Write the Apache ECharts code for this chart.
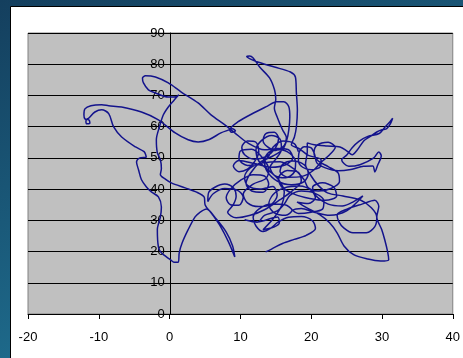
<!DOCTYPE html>
<html>
<head>
<meta charset="utf-8">
<script src="https://cdn.jsdelivr.net/npm/echarts@6/dist/echarts.min.js"></script>
<style>
  html, body { margin: 0; padding: 0; }
  #chart { width: 463px; height: 358px; }
</style>
</head>
<body>
<div id="chart"></div>
<script>
// ---- axis ticks ----
const xTicks = [-20, -10, 0, 10, 20, 30, 40];
const yTicks = [0, 10, 20, 30, 40, 50, 60, 70, 80, 90];

// ---- trajectory (x values, y values) ----
const pathX = [
  13.56, 14.4, 15.95, 17.6, 19.3, 20.6, 20.2, 18.6, 16.8, 15.3, 14.3, 13.2, 12.2, 11.8, 12.6, 14.4, 16.3, 17.3, 16.4, 14.8,
  14.0, 14.6, 16.2, 18.4, 20.0, 20.6, 19.6, 18.0,
  19.4, 21.2, 22.6, 23.66, 24.64, 26.0, 28.0, 29.8, 30.95, 30.8, 30.39, 29.97, 29.27, 29.55, 28.99, 27.17, 25.06, 23.66,
  23.9, 24.64, 25.9, 27.8, 28.99, 29.27, 28.5, 26.89, 24.5, 22.3, 21.0,
  20.0, 19.2, 19.45, 19.45, 20.43, 22.26, 24.08, 25.06, 25.8, 26.5, 27.45, 28.3, 29.27, 30.0, 30.67, 31.2, 31.51, 31.1,
  30.4, 29.6, 28.0, 26.74, 25.76, 25.06, 24.3, 25.3, 26.89, 28.85, 29.55, 29.9, 29.41, 28.99, 28.7, 27.4, 25.6, 23.8,
  22.0, 20.8,
  20.5, 20.0, 19.0, 18.3, 18.2, 18.8, 20.0, 21.3, 21.4, 19.6, 18.3, 17.2,
  17.63, 17.91, 18.05, 17.91, 17.77, 17.07, 14.82, 12.44, 11.3, 10.9, 11.3, 11.8, 12.72, 14.12, 14.82, 15.0, 14.8, 15.25,
  15.95, 16.5, 16.2,
  15.0, 13.8, 13.2, 13.6, 14.8, 15.4, 14.9, 13.6, 12.0, 10.6, 10.2, 11.0, 12.2, 12.6, 12.0, 11.0, 9.8, 9.0, 9.8, 12.0,
  14.4, 16.4, 17.4, 16.8, 15.2,
  13.42, 11.04, 9.21, 7.81, 5.85, 4.03, 1.65, -0.18, -2.0, -3.41, -3.83, -3.69, -2.99, -2.0, -0.18, 0.94, 1.3, 0.6,
  -0.18, -0.88, -1.44, -1.87, -1.73, -1.3, -1.16, -1.3, -0.6, 0.24, 2.2, 3.74, 4.9, 5.01,
  6.0, 7.2, 8.3, 9.21, 8.9, 8.0, 6.6, 5.2,
  4.2, 3.6, 2.62, 1.78, 1.36, 1.22, 0.6, 0.1, -1.16, -1.58, -1.73, -1.3, -1.16, -1.58, -2.57, -3.27, -3.97, -4.39,
  -4.67, -4.2, -3.3, -3.6, -4.81, -6.77, -7.9, -8.6, -9.58, -10.55, -11.4, -11.82, -11.68, -11.26, -11.4, -11.96,
  -12.1, -11.96, -11.12, -9.58, -8.6, -6.77, -3.97, -1.58, 0.8, 2.62, 4.03, 5.6, 7.25, 8.2, 8.9, 9.3, 8.7, 8.5,
  9.63, 12.15, 13.83, 15.1, 16.14, 16.84, 16.98, 16.84, 16.56,
  16.0, 14.6, 12.8, 11.4, 10.8, 11.6, 13.2, 14.0, 13.4, 11.8, 10.0, 8.6, 8.0, 8.6, 9.8, 10.4, 9.6, 7.8, 6.2, 5.4,
  5.5, 6.4, 7.8, 9.0, 9.4, 9.0, 8.2, 9.4, 11.4, 13.4, 15.6, 17.2, 18.6, 18.2, 16.6, 15.4, 15.8, 17.6, 19.8, 22.0,
  23.6, 23.2, 21.6, 20.2, 20.6, 22.4, 24.4, 26.0, 27.3,
  25.0, 22.6, 20.4, 18.6, 17.4, 18.2, 20.0, 21.6,
  21.8, 20.4, 18.6, 17.0, 16.2, 15.2, 13.4, 12.4, 10.6, 12.4, 15.25, 15.5, 14.8, 13.2,
  14.6, 15.8, 16.2, 15.4, 14.0, 12.6, 12.2, 13.0, 14.4, 15.6, 15.8, 15.0, 14.2, 14.8, 16.4, 17.6, 17.8, 17.0, 15.6, 14.0,
  13.4, 13.8, 15.2, 17.2, 19.0, 19.6, 19.0, 17.4, 16.0, 15.6, 16.8, 18.6, 20.2, 21.4, 22.6, 23.4, 22.4, 20.8, 20.4, 21.0,
  22.4, 23.8, 24.0, 22.8, 21.0, 19.6, 19.0, 17.6, 15.6, 13.2, 11.4, 10.6, 11.0, 12.8, 14.6, 15.2, 14.4, 12.6, 11.0, 10.4,
  11.8, 13.6, 14.0, 13.0, 11.6, 10.0, 9.8, 11.0, 12.8, 14.0, 14.6, 16.0, 17.6, 18.2
];
const pathY = [
  19.9, 20.8, 22.6, 23.9, 25.2, 27.4, 29.8, 31.2, 31.0, 29.4, 27.5, 26.4, 28.2, 31.0, 33.6, 35.2, 35.0, 33.2, 31.6, 32.4,
  35.0, 38.2, 40.4, 41.0, 39.6, 37.2, 35.4, 35.8,
  34.0, 31.8, 29.2, 26.0, 21.8, 19.0, 17.6, 17.0, 17.4, 19.9, 23.8, 27.0, 31.1, 34.5, 36.4, 35.2, 33.6, 31.8,
  29.6, 27.5, 26.0, 26.0, 28.0, 31.0, 34.0, 36.6, 37.8, 38.8, 41.2,
  44.2, 48.0, 52.0, 54.8, 54.2, 53.8, 53.5, 52.2, 51.0, 52.5, 55.5, 56.8, 58.3, 59.0, 59.4, 61.0, 62.7, 61.5,
  59.8, 57.8, 56.9, 55.3, 53.2, 51.0, 49.4, 47.3, 47.8, 50.0, 51.9, 50.6, 47.8, 45.5, 47.4, 47.3, 46.3, 45.9,
  46.8, 48.4,
  51.0, 53.2, 53.6, 51.8, 49.0, 47.0, 46.2, 47.2, 49.4, 50.8, 53.0, 54.2,
  56.7, 59.9, 65.3, 70.8, 75.9, 77.5, 79.1, 80.7, 81.8, 82.4, 82.6, 82.0, 79.1, 75.6, 71.8, 68.8, 66.0, 62.8,
  59.0, 56.5, 54.0,
  52.4, 53.6, 55.6, 57.8, 58.2, 56.2, 53.0, 50.4, 49.6, 51.0, 53.4, 55.4, 55.0, 52.0, 48.8, 46.4, 45.6, 47.4, 49.2, 48.2,
  47.0, 47.8, 50.0, 52.6, 53.0,
  52.6, 54.8, 58.0, 60.6, 63.8, 67.6, 71.1, 74.0, 75.9, 76.3, 75.6, 74.0, 71.8, 70.8, 69.5, 69.6, 70.2, 68.4,
  66.3, 63.8, 59.9, 55.8, 51.6, 49.4, 46.6, 44.6, 43.2, 42.0, 40.4, 39.1, 37.4, 35.0,
  32.0, 28.0, 23.2, 18.3, 21.8, 26.2, 30.4, 33.6,
  32.4, 31.1, 27.0, 22.8, 19.6, 16.6, 16.6, 17.4, 19.6, 21.5, 27.0, 31.1, 34.3, 37.5, 39.1, 40.7, 43.0, 46.2,
  48.7, 50.0, 50.3, 52.0, 53.5, 56.7, 59.9, 64.2, 65.4, 64.7, 62.8, 61.9, 60.9, 61.2, 62.2, 62.5,
  63.8, 65.7, 66.7, 67.0, 66.7, 66.3, 64.7, 62.2, 58.0, 55.8, 55.1, 55.9, 58.0, 58.8, 59.3, 58.7, 58.2, 59.0,
  61.5, 64.7, 66.6, 68.0, 68.0, 66.4, 63.1, 59.0, 55.8,
  52.8, 50.6, 48.6, 45.0, 41.8, 39.4, 39.0, 41.6, 44.2, 44.6, 42.8, 40.0, 37.2, 35.0, 34.8, 37.4, 39.6, 40.2, 38.6, 36.0,
  38.8, 40.6, 41.6, 40.4, 37.8, 35.0, 32.6, 30.8, 31.6, 33.4, 36.6, 39.2, 42.6, 45.4, 46.0, 43.6, 40.8, 38.4, 37.0, 36.4,
  37.8, 40.6, 42.0, 40.6, 38.0, 35.2, 34.6, 36.0, 37.8,
  33.0, 31.6, 32.6, 33.8, 33.2, 32.2, 32.6, 33.6,
  36.2, 38.8, 39.4, 38.0, 35.2, 33.0, 31.6, 29.4, 30.2, 29.5, 31.1, 29.2, 27.9, 27.0,
  30.4, 34.6, 39.0, 43.0, 46.0, 49.0, 52.6, 55.6, 57.2, 56.0, 52.8, 49.6, 47.0, 44.4, 43.6, 45.4, 48.6, 51.4, 52.6, 51.8,
  49.0, 45.6, 42.6, 41.4, 42.4, 45.0, 47.8, 49.0, 48.0, 45.6, 43.8, 44.0, 45.8, 48.6, 51.0, 53.4, 55.0, 54.0, 51.6, 49.0,
  47.2, 45.2, 42.4, 40.2, 39.4, 40.4, 43.0, 46.4, 48.8, 48.4, 46.8, 44.0, 41.2, 40.0, 40.8, 38.0, 35.2, 34.4, 35.6, 38.4,
  41.6, 43.4, 46.4, 50.4, 52.8, 52.2, 49.6, 47.6, 48.0, 50.6, 53.4, 55.4, 54.6, 52.0
];

const pathData = pathX.map((x, i) => [x, pathY[i]]);

const chart = echarts.init(document.getElementById('chart'), null, { renderer: 'canvas' });
const labelFont = {
  fontFamily: '"Liberation Sans Narrow", "Liberation Sans", Arial, sans-serif',
  fontSize: 13,
  color: '#000'
};

// plot area geometry
const gridLeft = 28, gridRight = 7, plotWidth = 463 - gridLeft - gridRight;
const xMin = xTicks[0], xMax = xTicks[xTicks.length - 1];
// y axis sits on x = 0
const yAxisOffset = -plotWidth * (0 - xMin) / (xMax - xMin);

chart.setOption({
  animation: false,
  backgroundColor: {
    type: 'linear', x: 0, y: 0, x2: 0.3, y2: 1,
    colorStops: [
      { offset: 0, color: '#143f5e' },
      { offset: 1, color: '#1f6f90' }
    ]
  },
  graphic: [
    {
      type: 'rect',
      z: -10,
      shape: { x: 10.5, y: 6.5, width: 460, height: 360 },
      style: { fill: '#ffffff', stroke: '#000000', lineWidth: 1 }
    }
  ],
  grid: {
    left: gridLeft, right: gridRight, top: 33, bottom: 44,
    show: true,
    backgroundColor: '#c0c0c0',
    borderColor: '#808080',
    borderWidth: 1
  },
  xAxis: {
    type: 'value',
    min: xMin,
    max: xMax,
    interval: xTicks[1] - xTicks[0],
    axisLine: { show: true, onZero: false, lineStyle: { color: '#000', width: 1 } },
    axisTick: { show: true, length: 5, lineStyle: { color: '#000' } },
    axisLabel: Object.assign({ margin: 17 }, labelFont),
    splitLine: { show: false }
  },
  yAxis: {
    type: 'value',
    min: yTicks[0],
    max: yTicks[yTicks.length - 1],
    interval: yTicks[1] - yTicks[0],
    position: 'left',
    offset: yAxisOffset,
    axisLine: { show: true, onZero: false, lineStyle: { color: '#000', width: 1 } },
    axisTick: { show: true, length: 4, lineStyle: { color: '#000' } },
    axisLabel: Object.assign({ margin: 6 }, labelFont),
    splitLine: { show: true, lineStyle: { color: '#000', width: 1 } }
  },
  series: [
    {
      type: 'line',
      data: pathData,
      showSymbol: false,
      smooth: 0.3,
      lineStyle: { color: '#13138c', width: 1.5 },
      itemStyle: { color: '#13138c' },
      z: 3
    }
  ]
});
</script>
</body>
</html>
